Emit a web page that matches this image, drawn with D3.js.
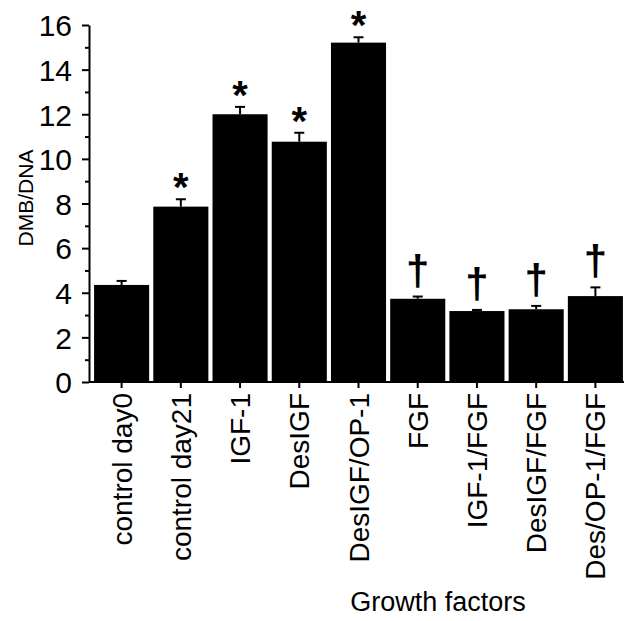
<!DOCTYPE html>
<html>
<head>
<meta charset="utf-8">
<script src="https://cdn.jsdelivr.net/npm/d3@7"></script>
<style>
  body { margin: 0; background: #fff; }
  svg { font-family: "Liberation Sans", Arial, sans-serif; }
</style>
</head>
<body>
<script>
var w = 624;
var h = 621;

// data
var categories = ["control day0", "control day21", "IGF-1", "DesIGF", "DesIGF/OP-1",
                  "FGF", "IGF-1/FGF", "DesIGF/FGF", "Des/OP-1/FGF"];
var means = [4.35, 7.86, 12.0, 10.77, 15.21, 3.73, 3.18, 3.26, 3.85];
var errors = [0.18, 0.33, 0.33, 0.4, 0.24, 0.1, 0.05, 0.15, 0.39];
var marks = ["", "*", "*", "*", "*", "\u2020", "\u2020", "\u2020", "\u2020"];
var yTicks = [0, 2, 4, 6, 8, 10, 12, 14, 16];

var svg = d3.select("body").append("svg")
  .attr("width", w)
  .attr("height", h);

var x = d3.scaleBand()
  .domain(categories)
  .range([92, 625])
  .paddingInner(0.07)
  .paddingOuter(0.035);

var y = d3.scaleLinear()
  .domain([0, 16])
  .range([382, 25]);

// bars
svg.selectAll("rect.bar")
  .data(categories)
  .enter()
  .append("rect")
  .attr("class", "bar")
  .attr("x", function (d) { return x(d); })
  .attr("y", function (d, i) { return y(means[i]); })
  .attr("width", x.bandwidth())
  .attr("height", function (d, i) { return y(0) - y(means[i]); })
  .attr("fill", "#000");

// error bars (upper only)
var err = svg.selectAll("g.err")
  .data(categories)
  .enter()
  .append("g")
  .attr("class", "err")
  .attr("stroke", "#000")
  .attr("stroke-width", 2);

err.append("line")
  .attr("x1", function (d) { return x(d) + x.bandwidth() / 2; })
  .attr("x2", function (d) { return x(d) + x.bandwidth() / 2; })
  .attr("y1", function (d, i) { return y(means[i]); })
  .attr("y2", function (d, i) { return y(means[i] + errors[i]); });

err.append("line")
  .attr("x1", function (d) { return x(d) + x.bandwidth() / 2 - 5; })
  .attr("x2", function (d) { return x(d) + x.bandwidth() / 2 + 5; })
  .attr("y1", function (d, i) { return y(means[i] + errors[i]); })
  .attr("y2", function (d, i) { return y(means[i] + errors[i]); });

// significance marks
svg.selectAll("text.mark")
  .data(categories)
  .enter()
  .append("text")
  .attr("class", "mark")
  .attr("x", function (d) { return x(d) + x.bandwidth() / 2; })
  .attr("y", function (d, i) {
    return marks[i] == "*" ? y(means[i] + errors[i]) + 2 : y(means[i] + errors[i]) - 12;
  })
  .attr("text-anchor", "middle")
  .attr("font-size", function (d, i) { return marks[i] == "*" ? 40 : 42; })
  .attr("font-weight", "bold")
  .text(function (d, i) { return marks[i]; });

// y axis
var yAxis = svg.append("g")
  .attr("transform", "translate(89,0)")
  .call(d3.axisLeft(y).tickValues(yTicks).tickSize(7).tickSizeOuter(0));

yAxis.append("g")
  .call(d3.axisLeft(y).tickValues(d3.range(1, 16, 2)).tickSize(4).tickFormat(""))
  .select(".domain").remove();

yAxis.selectAll("text")
  .attr("font-size", 30)
  .attr("font-family", "Liberation Sans, Arial, sans-serif")
  .attr("fill", "#000")
  .attr("x", -17)
  .attr("dy", "0.36em");

// x axis
var xAxis = svg.append("g")
  .attr("transform", "translate(0,382)")
  .call(d3.axisBottom(x).tickSize(6).tickSizeOuter(0));

xAxis.select(".domain").attr("d", "M89,0H624");

xAxis.selectAll("text")
  .attr("font-size", 28)
  .attr("font-family", "Liberation Sans, Arial, sans-serif")
  .attr("fill", "#000")
  .attr("text-anchor", "end")
  .attr("transform", "rotate(-90)")
  .attr("x", -11)
  .attr("y", 0)
  .attr("dy", "0.36em");

svg.selectAll(".domain, .tick line")
  .attr("stroke", "#000")
  .attr("stroke-width", 2);

// axis titles
svg.append("text")
  .attr("transform", "translate(33,198) rotate(-90)")
  .attr("text-anchor", "middle")
  .attr("font-size", 21)
  .text("DMB/DNA");

svg.append("text")
  .attr("x", 438)
  .attr("y", 611)
  .attr("text-anchor", "middle")
  .attr("font-size", 27)
  .text("Growth factors");
</script>
</body>
</html>
